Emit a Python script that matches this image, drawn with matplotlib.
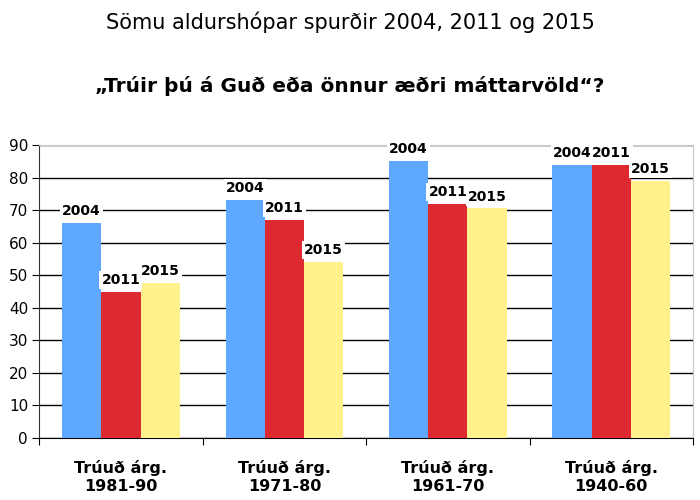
import numpy as np
import matplotlib.pyplot as plt

categories = ["Trúuð árg.\n1981-90", "Trúuð árg.\n1971-80", "Trúuð árg.\n1961-70", "Trúuð árg.\n1940-60"]
years = ["2004", "2011", "2015"]
vals_2004 = [66, 73, 85, 84]
vals_2011 = [45, 67, 72, 84]
vals_2015 = [47.5, 54, 70.5, 79]
colors = ["#5fa8ff", "#dc2a30", "#fff28c"]

plt.rcParams['font.family'] = ['DejaVu Sans']

fig = plt.figure(figsize=(7, 5), dpi=100)
ax = fig.add_axes([0.056, 0.124, 0.934, 0.586])

x = np.arange(len(categories))
w = 0.24
series = [vals_2004, vals_2011, vals_2015]
for i, (vals, col, yr) in enumerate(zip(series, colors, years)):
    pos = x + (i - 1) * w
    ax.bar(pos, vals, width=w, color=col, zorder=3, edgecolor="none")
    for px, v in zip(pos, vals):
        ax.text(px, v + 1.5, yr, ha="center", va="bottom", fontsize=10,
                fontweight="bold", zorder=4,
                bbox=dict(facecolor="white", edgecolor="none", pad=1.5))

ax.set_xlim(-0.5, len(categories) - 0.5)
ax.set_ylim(0, 90)
ax.set_yticks(np.arange(0, 91, 10))
ax.yaxis.grid(True, color="black", linewidth=1, zorder=0)
ax.set_axisbelow(True)
ax.set_xticks(np.arange(len(categories) + 1) - 0.5, minor=False)
ax.set_xticklabels([])
ax.set_xticks(x, minor=True)
ax.set_xticklabels(categories, minor=True, fontsize=11.5, fontweight="bold")
ax.tick_params(axis="x", which="minor", length=0, pad=16)
ax.tick_params(axis="x", which="major", length=5, direction="out")
ax.tick_params(axis="y", length=5, labelsize=11, pad=3)

ax.spines["top"].set_color("#c8c8c8")
ax.spines["right"].set_color("#c8c8c8")
ax.spines["left"].set_color("#333333")
ax.spines["bottom"].set_color("black")

fig.text(0.5, 0.955, "Sömu aldurshópar spurðir 2004, 2011 og 2015",
         ha="center", va="center", fontsize=15)
fig.text(0.5, 0.828, "„Trúir þú á Guð eða önnur æðri máttarvöld“?",
         ha="center", va="center", fontsize=14.5, fontweight="bold")

fig.savefig("out.png", dpi=100)
